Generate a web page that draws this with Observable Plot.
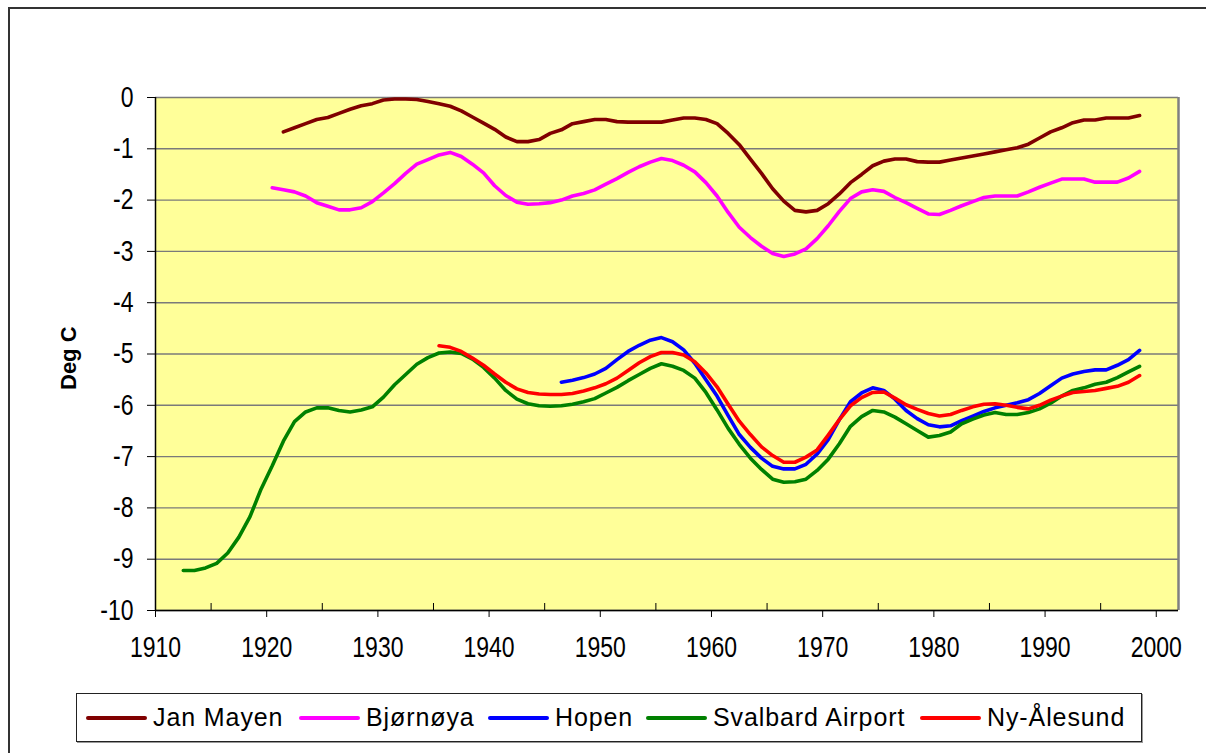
<!DOCTYPE html>
<html>
<head>
<meta charset="utf-8">
<script src="https://cdn.jsdelivr.net/npm/d3@7"></script>
<script src="https://cdn.jsdelivr.net/npm/@observablehq/plot@0.6"></script>
<style>
  html, body { margin: 0; padding: 0; background: #fff; }
  body { width: 1206px; height: 753px; position: relative; overflow: hidden; font-family: "Liberation Sans", Arial, sans-serif; }
  #frame { position: absolute; left: 8px; top: 7px; width: 1220px; height: 780px; border: 2px solid #333; box-shadow: 1px 1px 0 #999; box-sizing: border-box; }
  #chart { position: absolute; left: 0; top: 0; }
  #legend { position: absolute; left: 76px; top: 693px; width: 1066px; height: 49px; box-sizing: border-box; border: 1px solid #222; box-shadow: 1px 1px 0 #999; background: #fff; }
  .item { position: absolute; top: 0; height: 47px; display: flex; align-items: center; }
  .sw { display: inline-block; width: 61px; height: 4px; margin-right: 6px; border-radius: 2px; }
  .lab { font-size: 25px; letter-spacing: 0.9px; color: #000; white-space: nowrap; line-height: 1; }
</style>
</head>
<body>
<div id="frame"></div>
<div id="chart"></div>
<div id="legend"></div>
<script>
// Series names and colours
const names = ["Jan Mayen", "Bjørnøya", "Hopen", "Svalbard Airport", "Ny-Ålesund"];
const colors = ["#800000", "#FF00FF", "#0000FF", "#008000", "#FF0000"];

// First year of each series (annual values, plotted at mid-year)
const startYears = [1921, 1920, 1946, 1912, 1935];

const janMayen = [-0.67,-0.59,-0.51,-0.43,-0.39,-0.31,-0.23,-0.16,-0.12,-0.05,-0.03,-0.03,-0.04,-0.08,-0.12,-0.17,-0.26,-0.38,-0.50,-0.62,
  -0.77,-0.86,-0.86,-0.82,-0.70,-0.63,-0.51,-0.47,-0.43,-0.43,-0.47,-0.48,-0.48,-0.48,-0.48,-0.44,-0.40,-0.40,-0.43,-0.51,
  -0.70,-0.92,-1.20,-1.48,-1.78,-2.02,-2.20,-2.23,-2.20,-2.07,-1.88,-1.66,-1.50,-1.33,-1.24,-1.20,-1.20,-1.25,-1.26,-1.26,
  -1.22,-1.18,-1.14,-1.10,-1.06,-1.02,-0.98,-0.91,-0.79,-0.67,-0.59,-0.49,-0.44,-0.44,-0.40,-0.40,-0.40,-0.35];

const bjornoya = [-1.76,-1.80,-1.84,-1.92,-2.05,-2.12,-2.19,-2.19,-2.15,-2.03,-1.86,-1.68,-1.48,-1.30,-1.21,-1.12,-1.07,-1.15,-1.30,-1.47,
  -1.72,-1.91,-2.04,-2.08,-2.07,-2.05,-2.00,-1.92,-1.87,-1.80,-1.69,-1.58,-1.46,-1.35,-1.26,-1.19,-1.23,-1.32,-1.45,-1.66,
  -1.92,-2.24,-2.53,-2.73,-2.90,-3.04,-3.10,-3.05,-2.95,-2.75,-2.50,-2.22,-1.97,-1.84,-1.80,-1.83,-1.95,-2.05,-2.16,-2.27,
  -2.28,-2.20,-2.11,-2.03,-1.95,-1.92,-1.92,-1.92,-1.84,-1.75,-1.67,-1.59,-1.59,-1.59,-1.65,-1.65,-1.65,-1.57,-1.44];

const hopen = [-5.55,-5.51,-5.46,-5.39,-5.28,-5.11,-4.95,-4.83,-4.73,-4.68,-4.76,-4.92,-5.18,-5.50,-5.82,-6.20,-6.57,-6.82,-7.03,-7.19,
  -7.24,-7.24,-7.15,-6.95,-6.67,-6.28,-5.93,-5.76,-5.66,-5.71,-5.88,-6.10,-6.26,-6.38,-6.42,-6.40,-6.30,-6.21,-6.12,-6.05,
  -6.00,-5.95,-5.89,-5.77,-5.62,-5.47,-5.39,-5.34,-5.31,-5.31,-5.22,-5.11,-4.93];

const svalbard = [-9.22,-9.22,-9.17,-9.08,-8.88,-8.57,-8.17,-7.63,-7.18,-6.70,-6.32,-6.13,-6.05,-6.05,-6.10,-6.13,-6.09,-6.03,-5.84,-5.60,
  -5.40,-5.20,-5.07,-4.98,-4.96,-4.99,-5.10,-5.26,-5.47,-5.71,-5.88,-5.97,-6.01,-6.02,-6.01,-5.98,-5.93,-5.87,-5.76,-5.65,
  -5.52,-5.40,-5.28,-5.19,-5.24,-5.32,-5.47,-5.75,-6.09,-6.45,-6.76,-7.03,-7.25,-7.44,-7.50,-7.49,-7.44,-7.27,-7.05,-6.75,
  -6.41,-6.22,-6.10,-6.13,-6.23,-6.36,-6.49,-6.62,-6.59,-6.52,-6.36,-6.27,-6.19,-6.14,-6.18,-6.18,-6.14,-6.07,-5.96,-5.82,
  -5.71,-5.66,-5.59,-5.55,-5.46,-5.35,-5.24];

const nyAlesund = [-4.84,-4.87,-4.95,-5.08,-5.22,-5.39,-5.55,-5.68,-5.75,-5.78,-5.79,-5.79,-5.77,-5.72,-5.66,-5.58,-5.47,-5.32,-5.17,-5.05,
  -4.97,-4.97,-5.02,-5.15,-5.37,-5.64,-5.98,-6.31,-6.57,-6.81,-6.98,-7.11,-7.11,-7.01,-6.87,-6.58,-6.28,-6.01,-5.85,-5.75,
  -5.74,-5.86,-5.99,-6.08,-6.16,-6.21,-6.18,-6.10,-6.03,-5.98,-5.97,-6.00,-6.04,-6.07,-6.00,-5.90,-5.82,-5.75,-5.73,-5.71,
  -5.67,-5.63,-5.55,-5.42];

// Axis ticks
const yTicks = [0,-1,-2,-3,-4,-5,-6,-7,-8,-9,-10];
const xTicks = [1910,1920,1930,1940,1950,1960,1970,1980,1990,2000];
const xMinorTicks = [1915,1925,1935,1945,1955,1965,1975,1985,1995];
const xDomain = [1910, 2002];

const allValues = [janMayen, bjornoya, hopen, svalbard, nyAlesund];
const data = allValues.flatMap((vals, s) => vals.map((v, i) => ({name: names[s], year: startYears[s] + i, value: v})));

const chart = Plot.plot({
  width: 1206,
  height: 665,
  marginLeft: 155,
  marginRight: 28,
  marginTop: 97,
  marginBottom: 55,
  style: {background: "transparent", color: "#000", fontFamily: "'Liberation Sans', Arial, sans-serif", fontSize: "23px", overflow: "visible"},
  x: {domain: xDomain, label: null},
  y: {domain: [-10, 0], label: null},
  color: {domain: names, range: colors},
  marks: [
    Plot.frame({fill: "#FFFF99", stroke: null}),
    Plot.gridY(yTicks, {stroke: "#7a7a7a", strokeOpacity: 1, strokeWidth: 1.4}),
    Plot.ruleX([xDomain[1]], {stroke: "#808080", strokeWidth: 2.5}),
    Plot.line(data, {x: d => d.year + 0.5, y: "value", z: "name", stroke: "name", strokeWidth: 3.6, strokeLinejoin: "round", strokeLinecap: "round"}),
    Plot.ruleX([xDomain[0]], {stroke: "#000", strokeWidth: 1.5}),
    Plot.ruleY([-10], {stroke: "#000", strokeWidth: 1.5}),
    Plot.axisY({ticks: yTicks, tickSize: 8, tickPadding: 14, tickFormat: d => String(d), fontSize: 23, label: null}),
    Plot.axisX({ticks: xTicks, tickSize: 7, tickPadding: 19, tickFormat: d => String(d), fontSize: 23, label: null}),
    Plot.tickX(xMinorTicks, {x: d => d, stroke: "#000", insetTop: 506}),
    Plot.text(["Deg C"], {frameAnchor: "left", text: d => d, rotate: -90, dx: -87, dy: 36, fontWeight: "bold", fontSize: 22, fill: "#000"})
  ]
});

// Excel's tick labels are drawn taller than wide: stretch them vertically
chart.querySelectorAll('g[aria-label="y-axis tick label"] text, g[aria-label="x-axis tick label"] text').forEach(t => {
  const tr = t.getAttribute("transform") || "";
  t.setAttribute("transform", tr + " scale(1,1.25)");
});

document.getElementById("chart").appendChild(chart);

// Legend entries, laid out left to right inside the box
const legendOffsets = [9, 222, 411, 569, 843];
const legend = document.getElementById("legend");
names.forEach((n, i) => {
  const item = document.createElement("div");
  item.className = "item";
  item.style.left = legendOffsets[i] + "px";
  const sw = document.createElement("span");
  sw.className = "sw";
  sw.style.background = colors[i];
  const lab = document.createElement("span");
  lab.className = "lab";
  lab.textContent = n;
  item.appendChild(sw);
  item.appendChild(lab);
  legend.appendChild(item);
});
</script>
</body>
</html>
